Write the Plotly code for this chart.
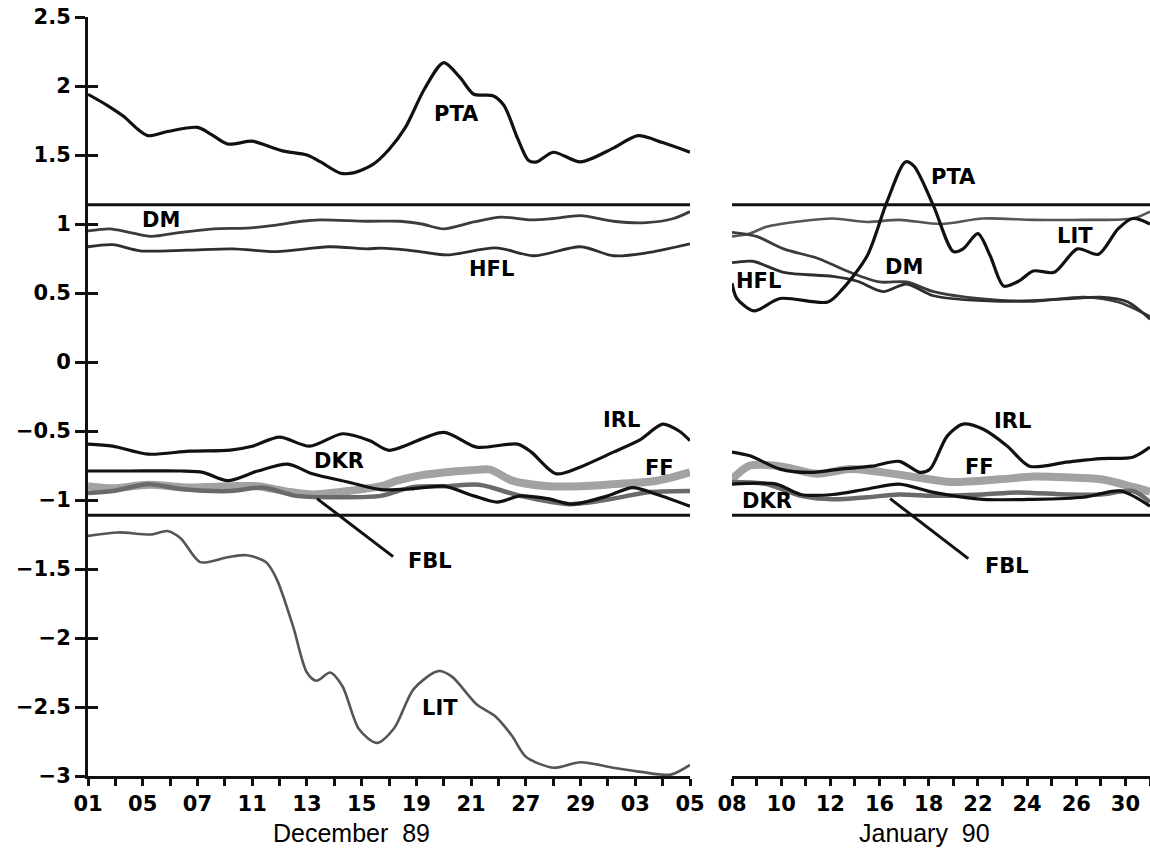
import plotly.graph_objects as go

# ---------------- data ----------------
# x positions are sample indices along each panel's date axis
dec_ticktext = ["01", "05", "07", "11", "13", "15", "19", "21", "27", "29", "03", "05"]
jan_ticktext = ["08", "10", "12", "16", "18", "22", "24", "26", "30"]

y_tickvals = [-3, -2.5, -2, -1.5, -1, -0.5, 0, 0.5, 1, 1.5, 2, 2.5]
y_ticktext = ["\u22123", "\u22122.5", "\u22122", "\u22121.5", "\u22121", "\u22120.5", "0", "0.5", "1", "1.5", "2", "2.5"]

upper_limit = 1.14
lower_limit = -1.11

# December 89 panel
pta_dec_x = [0, 0.7, 1.3, 1.8, 2.2, 2.9, 4.0, 4.5, 5.1, 6.0, 6.5, 7.1, 8.0, 8.5, 9.2, 9.7, 10.4, 11.0, 11.6, 12.3, 13.0, 13.6, 14.1, 14.8, 15.2, 15.7, 16.1, 16.4, 17.0, 18.0, 19.2, 20.1, 21.0, 22.0]
pta_dec_y = [1.94, 1.86, 1.78, 1.69, 1.64, 1.67, 1.70, 1.65, 1.58, 1.60, 1.57, 1.53, 1.50, 1.45, 1.37, 1.37, 1.43, 1.54, 1.70, 1.98, 2.17, 2.06, 1.94, 1.93, 1.86, 1.62, 1.46, 1.45, 1.52, 1.45, 1.55, 1.64, 1.59, 1.52]

dm_dec_x = [0, 0.8, 1.5, 2.3, 3.4, 4.6, 5.8, 6.8, 7.8, 8.5, 10.2, 11.4, 12.2, 13.0, 14.1, 15.1, 16.2, 17.0, 18.0, 19.2, 20.4, 21.4, 22.0]
dm_dec_y = [0.95, 0.965, 0.94, 0.91, 0.94, 0.965, 0.97, 0.99, 1.02, 1.03, 1.02, 1.02, 1.0, 0.965, 1.015, 1.05, 1.03, 1.04, 1.06, 1.02, 1.01, 1.04, 1.09]

hfl_dec_x = [0, 0.9, 1.9, 3.6, 5.3, 6.9, 8.8, 10.2, 10.7, 11.9, 13.1, 14.9, 16.3, 18.0, 19.2, 20.4, 22.0]
hfl_dec_y = [0.835, 0.85, 0.806, 0.81, 0.82, 0.80, 0.835, 0.82, 0.825, 0.806, 0.776, 0.827, 0.77, 0.835, 0.77, 0.79, 0.856]

irl_dec_x = [0, 0.9, 2.2, 3.7, 5.2, 6.0, 7.0, 8.1, 9.3, 10.3, 11.0, 13.0, 14.2, 15.7, 16.2, 17.1, 18.0, 19.2, 20.2, 21.0, 21.6, 22.0]
irl_dec_y = [-0.595, -0.61, -0.668, -0.646, -0.638, -0.61, -0.545, -0.61, -0.52, -0.57, -0.64, -0.51, -0.617, -0.595, -0.653, -0.81, -0.76, -0.653, -0.56, -0.45, -0.50, -0.57]

dkr_dec_x = [0, 1.5, 3.4, 4.2, 5.1, 6.2, 7.3, 8.2, 9.5, 10.7, 11.8, 13.0, 14.1, 14.95, 15.8, 16.8, 17.7, 19.0, 19.9, 20.8, 22.0]
dkr_dec_y = [-0.79, -0.79, -0.79, -0.80, -0.86, -0.79, -0.74, -0.81, -0.87, -0.925, -0.92, -0.90, -0.97, -1.015, -0.97, -0.99, -1.03, -0.97, -0.91, -0.96, -1.045]

ff_dec_x = [0, 0.9, 2.2, 3.7, 5.2, 6.2, 7.3, 8.2, 9.5, 10.7, 11.3, 12.2, 13.0, 14.0, 14.7, 15.5, 16.8, 18.0, 19.2, 20.8, 22.0]
ff_dec_y = [-0.90, -0.915, -0.89, -0.91, -0.90, -0.90, -0.94, -0.96, -0.935, -0.90, -0.86, -0.82, -0.80, -0.785, -0.78, -0.86, -0.90, -0.90, -0.885, -0.86, -0.80]

fbl_dec_x = [0, 0.9, 2.2, 3.4, 5.2, 6.4, 7.6, 9.0, 10.7, 11.9, 13.1, 14.3, 15.8, 17.6, 19.2, 20.4, 22.0]
fbl_dec_y = [-0.95, -0.935, -0.885, -0.92, -0.935, -0.91, -0.97, -0.98, -0.97, -0.905, -0.90, -0.89, -0.97, -1.03, -0.99, -0.945, -0.935]

lit_dec_x = [0, 1.1, 2.3, 2.9, 3.4, 4.1, 5.1, 5.8, 6.5, 6.9, 7.5, 8.0, 8.35, 8.85, 9.3, 9.9, 10.55, 11.2, 11.9, 12.8, 13.3, 14.2, 14.9, 15.5, 16.0, 17.0, 18.0, 19.2, 20.2, 21.3, 22.0]
lit_dec_y = [-1.26, -1.235, -1.25, -1.225, -1.28, -1.45, -1.415, -1.40, -1.45, -1.575, -1.92, -2.25, -2.31, -2.25, -2.35, -2.66, -2.76, -2.65, -2.37, -2.24, -2.28, -2.48, -2.57, -2.71, -2.86, -2.94, -2.90, -2.94, -2.97, -2.99, -2.92]

# January 90 panel
pta_jan_x = [0, 0.2, 0.9, 1.95, 3.9, 4.5, 5.5, 6.3, 7.05, 7.4, 8.2, 9.0, 9.4, 10.0, 10.5, 11.05, 11.7, 12.25, 13.1, 14.05, 14.9, 15.7, 16.3, 17.0]
pta_jan_y = [0.57, 0.46, 0.37, 0.46, 0.435, 0.53, 0.77, 1.16, 1.45, 1.42, 1.13, 0.80, 0.82, 0.93, 0.77, 0.55, 0.59, 0.66, 0.65, 0.82, 0.78, 0.965, 1.04, 1.0]

hfl_jan_x = [0, 0.85, 2.1, 4.1, 5.1, 6.15, 7.1, 8.2, 10.9, 13.6, 15.0, 16.1, 17.0]
hfl_jan_y = [0.72, 0.73, 0.65, 0.62, 0.585, 0.51, 0.565, 0.48, 0.44, 0.457, 0.47, 0.435, 0.31]

dm_jan_x = [0, 1.0, 2.1, 3.5, 4.8, 6.0, 7.1, 8.2, 10.2, 12.25, 14.3, 15.7, 17.0]
dm_jan_y = [0.94, 0.91, 0.82, 0.75, 0.65, 0.58, 0.58, 0.51, 0.457, 0.44, 0.47, 0.435, 0.33]

lit_jan_x = [0, 0.7, 1.4, 2.8, 4.1, 5.5, 6.8, 8.5, 10.2, 12.25, 14.3, 16.3, 17.0]
lit_jan_y = [0.91, 0.93, 0.98, 1.02, 1.04, 1.015, 1.03, 1.0, 1.04, 1.03, 1.03, 1.04, 1.09]

irl_jan_x = [0, 0.73, 1.95, 3.2, 4.4, 5.7, 6.8, 7.65, 8.06, 8.75, 9.4, 10.2, 11.2, 12.1, 13.6, 15.0, 16.3, 17.0]
irl_jan_y = [-0.653, -0.68, -0.776, -0.80, -0.776, -0.755, -0.72, -0.80, -0.776, -0.537, -0.45, -0.486, -0.61, -0.755, -0.726, -0.70, -0.69, -0.617]

ff_jan_x = [0, 0.73, 2.1, 3.46, 4.8, 6.15, 7.5, 8.9, 10.9, 12.25, 13.6, 15.0, 16.3, 17.0]
ff_jan_y = [-0.85, -0.75, -0.76, -0.81, -0.776, -0.80, -0.835, -0.87, -0.85, -0.83, -0.835, -0.85, -0.905, -0.94]

dkr_jan_x = [0, 1.8, 2.8, 4.1, 5.5, 6.8, 8.2, 10.2, 12.25, 14.3, 15.8, 17.0]
dkr_jan_y = [-0.885, -0.885, -0.96, -0.96, -0.92, -0.885, -0.945, -0.995, -0.995, -0.98, -0.935, -1.045]

fbl_jan_x = [0, 1.4, 2.8, 4.1, 5.5, 6.8, 8.2, 10.2, 11.6, 13.6, 15.0, 16.3, 17.0]
fbl_jan_y = [-0.87, -0.885, -0.97, -0.995, -0.98, -0.96, -0.97, -0.96, -0.945, -0.96, -0.96, -0.935, -1.015]

# series labels: (text, x, y)
labels_dec = [("PTA", 13.45, 1.80), ("DM", 2.67, 1.03), ("HFL", 14.73, 0.675), ("IRL", 19.48, -0.42),
              ("DKR", 9.17, -0.718), ("FF", 20.87, -0.765), ("FBL", 12.5, -1.44), ("LIT", 12.87, -2.51)]
labels_jan = [("PTA", 9.0, 1.34), ("LIT", 13.93, 0.91), ("DM", 7.0, 0.69), ("HFL", 1.06, 0.59),
              ("IRL", 11.4, -0.425), ("FF", 10.06, -0.76), ("DKR", 1.43, -1.005), ("FBL", 11.2, -1.48)]
# leader line for FBL: (x0, y0, x1, y1)
leader_dec = (8.37, -0.99, 11.15, -1.41)
leader_jan = (6.43, -0.99, 9.61, -1.425)

# ---------------- styles ----------------
BLACK = "#111111"
styles = {
    "PTA": dict(color=BLACK, width=3.2),
    "IRL": dict(color=BLACK, width=3.2),
    "DKR": dict(color=BLACK, width=3.2),
    "DM": dict(color="#3c3c3c", width=2.8),
    "HFL": dict(color="#2e2e2e", width=2.8),
    "LIT": dict(color="#555555", width=2.6),
    "FF": dict(color="#a2a2a2", width=8),
    "FBL": dict(color="#6a6a6a", width=4.5),
}

fig = go.Figure()

def add(name, xs, ys, xaxis):
    st = styles[name]
    fig.add_trace(go.Scatter(
        x=xs, y=ys, mode="lines", name=name, xaxis=xaxis, yaxis="y",
        line=dict(color=st["color"], width=st["width"], shape="spline", smoothing=0.8),
        showlegend=False, hoverinfo="skip"))

# draw order: bands first, then grey lines, then black lines
for nm, xs, ys in [("FF", ff_dec_x, ff_dec_y), ("FBL", fbl_dec_x, fbl_dec_y),
                   ("LIT", lit_dec_x, lit_dec_y), ("DM", dm_dec_x, dm_dec_y), ("HFL", hfl_dec_x, hfl_dec_y),
                   ("IRL", irl_dec_x, irl_dec_y), ("DKR", dkr_dec_x, dkr_dec_y), ("PTA", pta_dec_x, pta_dec_y)]:
    add(nm, xs, ys, "x")
for nm, xs, ys in [("FF", ff_jan_x, ff_jan_y), ("FBL", fbl_jan_x, fbl_jan_y),
                   ("LIT", lit_jan_x, lit_jan_y), ("DM", dm_jan_x, dm_jan_y), ("HFL", hfl_jan_x, hfl_jan_y),
                   ("IRL", irl_jan_x, irl_jan_y), ("DKR", dkr_jan_x, dkr_jan_y), ("PTA", pta_jan_x, pta_jan_y)]:
    add(nm, xs, ys, "x2")

# limit lines
dec_n = 2 * (len(dec_ticktext) - 1)
jan_n = 2 * (len(jan_ticktext) - 1) + 1
for lim in (upper_limit, lower_limit):
    fig.add_trace(go.Scatter(x=[0, dec_n], y=[lim, lim], mode="lines", xaxis="x", yaxis="y",
                             line=dict(color=BLACK, width=3), showlegend=False, hoverinfo="skip"))
    fig.add_trace(go.Scatter(x=[0, jan_n], y=[lim, lim], mode="lines", xaxis="x2", yaxis="y",
                             line=dict(color=BLACK, width=3), showlegend=False, hoverinfo="skip"))

# helper trace to activate the inner-tick axis
fig.add_trace(go.Scatter(x=[None], y=[None], xaxis="x", yaxis="y3", showlegend=False, hoverinfo="skip"))

BOLD = dict(family="DejaVu Sans", size=21, color="black", weight="bold")
LABEL = dict(family="DejaVu Sans", size=21, color="black", weight="bold")
TITLE = dict(family="Liberation Sans", size=25, color="black")

def tick_array(labels):
    vals, texts = [], []
    for i, t in enumerate(labels):
        vals.append(2 * i); texts.append(t)
        vals.append(2 * i + 1); texts.append("")
    return vals, texts

dec_vals, dec_texts = tick_array(dec_ticktext)
dec_vals, dec_texts = dec_vals[:-1], dec_texts[:-1]
jan_vals, jan_texts = tick_array(jan_ticktext)

W, H = 1150, 849
ml, mr, mt, mb = 88, 0, 17, 73
pw = W - ml - mr
left_end = (690 - ml) / pw
right_start = (732 - ml) / pw

axis_common = dict(showgrid=False, zeroline=False, showline=True, linecolor=BLACK, linewidth=3,
                   ticks="outside", ticklen=7, tickwidth=3, tickcolor=BLACK, tickfont=BOLD,
                   tickmode="array", anchor="y", automargin=False)

fig.update_layout(
    width=W, height=H,
    margin=dict(l=ml, r=mr, t=mt, b=mb, autoexpand=False),
    paper_bgcolor="white", plot_bgcolor="white",
    xaxis=dict(domain=[0, left_end], range=[0, dec_n], tickvals=dec_vals, ticktext=dec_texts, **axis_common),
    xaxis2=dict(domain=[right_start, 1.0], range=[0, jan_n], tickvals=jan_vals, ticktext=jan_texts, **axis_common),
    yaxis=dict(domain=[0, 1], range=[-3, 2.5], tickmode="array", tickvals=y_tickvals, ticktext=y_ticktext,
               showgrid=False, zeroline=False, showline=True, linecolor=BLACK, linewidth=3,
               ticks="outside", ticklen=10, tickwidth=3, tickcolor=BLACK, tickfont=BOLD, anchor="x",
               automargin=False),
    yaxis3=dict(overlaying="y", range=[-3, 2.5], tickmode="array", tickvals=y_tickvals,
                showticklabels=False, showgrid=False, zeroline=False, showline=False,
                ticks="inside", ticklen=10, tickwidth=3, tickcolor=BLACK, anchor="x", side="left",
                automargin=False),
)

for t, x, y in labels_dec:
    fig.add_annotation(text=t, x=x, y=y, xref="x", yref="y", showarrow=False, font=LABEL)
for t, x, y in labels_jan:
    fig.add_annotation(text=t, x=x, y=y, xref="x2", yref="y", showarrow=False, font=LABEL)

for (x0, y0, x1, y1), xr in [(leader_dec, "x"), (leader_jan, "x2")]:
    fig.add_shape(type="line", x0=x0, y0=y0, x1=x1, y1=y1, xref=xr, yref="y",
                  line=dict(color=BLACK, width=3))

ph = H - mt - mb
fig.add_annotation(text="December  89", x=(351 - ml) / pw, y=(H - mb - 833) / ph, xref="paper", yref="paper",
                   showarrow=False, font=TITLE, xanchor="center", yanchor="middle")
fig.add_annotation(text="January  90", x=(924 - ml) / pw, y=(H - mb - 833) / ph, xref="paper", yref="paper",
                   showarrow=False, font=TITLE, xanchor="center", yanchor="middle")

fig.write_html("out.html", config={"displayModeBar": False},
               post_script="document.body.style.margin='0px';document.body.style.overflow='hidden';")
